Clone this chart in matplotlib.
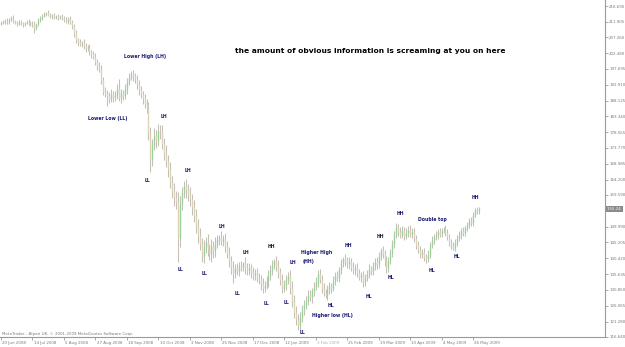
import matplotlib
matplotlib.use("Agg")
import matplotlib.pyplot as plt
import matplotlib.transforms as mtransforms

# ---------------- data (daily GBP/JPY-like candles) ----------------
first_open = 211.4
close = [
    211.6, 211.9, 212.3, 211.8, 212.6, 213.2,
    212.1, 211.7, 211.4, 211.9, 211.5, 211.2, 211.6, 211.9, 211.4, 211.7, 211.3,
    209.9,
    211.2, 212.4, 213.1, 213.8, 214.3, 214.6,
    214.1, 213.6, 213.9, 213.4, 213.7, 213.2, 213.5, 213.0,
    212.6, 212.1, 212.8, 211.9,
    210.6, 208.4, 206.3, 205.7,
    205.2, 205.6, 204.6,
    203.9, 204.2, 202.8, 202.1, 201.4,
    199.9, 198.6, 197.5,
    194.4, 190.8,
    190.2, 189.4, 188.6, 190.1, 189.1,
    189.8, 191.6, 188.9, 190.4, 189.6, 191.5,
    193.8, 195.2, 196.1, 195.4,
    194.5, 193.1, 191.2, 190.0, 188.8,
    187.2, 185.8,
    178.0, 170.5,
    174.8, 177.5, 176.2, 179.0, 178.6,
    175.1, 172.4, 169.8, 167.3,
    163.5, 160.8, 158.9, 157.4,
    146.5,
    156.8, 160.2, 162.4, 161.1, 159.6,
    158.3, 155.9, 153.2, 150.4, 147.1, 144.6, 141.2,
    143.8, 145.4, 143.1, 141.6, 144.2, 142.5,
    144.9, 146.3, 147.0, 145.8, 146.4, 144.1,
    141.9, 139.6, 137.8, 136.1,
    137.4, 136.6, 138.2, 137.9, 139.0, 137.5,
    136.8, 137.5, 136.2, 135.4, 135.9, 134.6, 134.1,
    132.8, 131.6, 132.2, 133.5,
    135.2, 136.9, 138.4, 139.5, 138.1, 136.2,
    134.0, 131.4, 132.5, 133.8,
    135.2,
    131.5, 127.6, 124.2, 122.1, 120.3, 122.6, 125.1,
    126.4, 127.9, 129.3, 128.6, 130.5, 131.9, 133.4, 135.6,
    134.2, 131.5, 130.0, 129.2, 130.8,
    132.1, 131.5, 133.6, 135.0, 134.6, 136.8, 138.9,
    140.2, 139.5, 138.6,
    139.4, 137.9, 136.8, 137.6, 135.9, 134.8, 135.3, 133.4, 134.6,
    135.8, 137.2, 136.5, 138.1, 139.3, 138.6,
    141.2, 142.8, 141.7,
    139.6, 137.4, 139.8, 141.9,
    144.6, 147.5, 149.8,
    148.4, 147.6, 148.9, 147.3, 148.2, 149.1, 147.8, 148.5, 146.6,
    144.4, 142.9, 141.6,
    142.4, 140.8, 140.2, 141.5, 144.3,
    145.9, 146.8, 147.5, 148.4, 147.9, 148.8, 149.4, 148.2,
    146.9, 145.1, 144.3, 143.6, 145.0,
    146.7, 147.5, 148.6, 148.1, 149.5, 150.4, 151.8, 151.2, 153.6,
    155.0, 154.6, 155.24,
]

upper_wick = [
    0.5, 0.6, 0.4, 0.7, 0.5, 0.6, 0.8, 0.4, 0.6, 0.5,
    0.7, 0.5, 0.4, 0.6, 0.8, 0.5, 0.6, 0.9, 0.5, 0.7,
    0.6, 0.5, 0.7, 0.4, 0.8, 0.6, 0.5, 0.7, 0.4, 0.6,
    0.5, 0.8, 0.6, 0.7, 0.5, 0.9, 0.6, 0.8, 1.0, 0.7,
    0.9, 0.6, 1.1, 0.8, 0.7, 1.0, 0.6, 0.9, 1.2, 0.8,
    1.1, 1.4, 0.9, 1.3, 1.0, 1.2, 1.6, 0.8, 1.1, 1.4,
    3.0, 1.2, 0.9, 1.5, 1.1, 1.3, 0.8, 1.2, 1.0, 1.4,
    1.1, 1.3, 0.9, 1.2, 1.5, 1.8, 2.0, 1.6, 2.2, 1.7,
    1.9, 1.6, 2.1, 1.8, 2.4, 1.9, 2.2, 1.7, 2.5, 2.0,
    3.2, 2.4, 1.8, 1.4, 2.1, 1.9, 2.3, 1.7, 2.0, 2.2,
    1.8, 2.4, 1.9, 2.1, 1.6, 2.3, 1.8, 2.0, 1.5, 1.9,
    1.3, 0.6, 1.7, 1.2, 1.8, 1.5, 2.0, 1.6, 1.9, 1.4,
    1.7, 1.2, 1.5, 0.3, 1.8, 1.4, 1.6, 1.2, 1.5, 1.3,
    1.7, 1.4, 1.2, 1.6, 1.3, 1.5, 1.8, 1.4, 1.6, 0.8,
    1.5, 1.9, 1.4, 1.7, 1.3, 1.6, 1.0, 1.8, 2.1, 1.6,
    1.9, 1.4, 1.7, 1.3, 1.5, 1.2, 1.6, 1.4, 1.1, 1.5,
    1.3, 1.3, 1.6, 1.2, 1.4, 1.1, 1.5, 1.3, 1.0, 1.4,
    1.2, 1.5, 1.1, 1.3, 0.6, 1.4, 1.2, 1.5, 1.1, 1.3,
    1.0, 1.4, 1.2, 0.9, 1.3, 1.1, 1.2, 1.4, 1.0, 1.3,
    1.1, 1.4, 1.2, 0.7, 1.3, 1.1, 1.4, 1.0, 1.2, 1.5,
    1.3, 1.3, 1.1, 1.4, 1.2, 1.0, 1.3, 1.1, 1.4, 1.0,
    1.2, 1.0, 1.3, 1.1, 0.9, 1.2, 1.0, 1.3, 1.1, 1.2,
    0.9, 1.1, 1.0, 1.2, 0.8, 0.5, 1.0, 1.2, 0.9, 1.1,
    1.0, 1.2, 0.9, 1.1, 1.0, 1.2, 0.8, 1.1, 0.9, 1.0,
    0.8, 0.7, 0.9, 0.6,
]

lower_wick = [
    0.5, 0.4, 0.6, 0.5, 0.7, 0.4, 0.6, 0.5, 0.7, 0.4,
    0.6, 0.8, 0.5, 0.4, 0.6, 0.7, 0.9, 1.5, 0.6, 0.5,
    0.4, 0.6, 0.5, 0.7, 0.4, 0.6, 0.8, 0.5, 0.6, 0.7,
    0.5, 0.6, 0.7, 0.5, 0.8, 0.6, 0.9, 1.1, 0.8, 1.0,
    0.7, 0.9, 0.8, 1.0, 0.7, 0.9, 1.1, 0.8, 1.0, 1.2,
    0.9, 1.3, 1.1, 1.0, 2.8, 1.2, 0.9, 1.4, 1.1, 1.3,
    1.0, 1.4, 1.2, 0.9, 1.3, 1.1, 1.0, 1.4, 1.2, 1.5,
    1.3, 1.1, 1.6, 1.2, 1.4, 1.8, 3.9, 2.1, 1.7, 2.3,
    1.8, 2.0, 1.6, 2.2, 1.9, 2.4, 1.8, 2.1, 2.6, 2.2,
    7.2, 2.6, 1.9, 1.6, 2.3, 1.8, 2.1, 2.5, 1.9, 2.2,
    2.0, 1.7, 1.9, 2.3, 1.8, 2.1, 1.6, 2.2, 1.9, 1.7,
    1.5, 1.8, 1.3, 1.6, 1.9, 1.4, 1.7, 2.0, 3.1, 1.5,
    1.3, 1.6, 1.2, 1.4, 1.7, 1.3, 1.5, 1.8, 1.4, 1.6,
    1.2, 1.5, 1.9, 1.7, 1.4, 1.2, 1.6, 1.3, 1.5, 1.1,
    1.4, 1.7, 1.5, 1.5, 1.3, 1.6, 1.2, 1.8, 2.0, 1.7,
    1.9, 1.6, 1.5, 1.4, 1.7, 1.3, 1.5, 1.2, 1.6, 1.4,
    1.2, 1.5, 1.3, 1.6, 1.1, 0.8, 1.4, 1.2, 1.5, 1.1,
    1.3, 1.0, 1.4, 1.2, 1.1, 1.3, 1.0, 1.4, 1.2, 1.1,
    1.3, 1.2, 1.0, 1.4, 1.6, 1.2, 1.1, 1.3, 1.0, 1.2,
    1.1, 1.3, 1.0, 1.2, 1.1, 1.4, 1.4, 1.1, 1.2, 1.0,
    1.2, 1.0, 1.3, 1.1, 1.0, 1.2, 1.1, 1.3, 1.0, 1.2,
    1.1, 1.3, 1.0, 1.2, 1.1, 1.3, 1.2, 1.0, 1.1, 0.9,
    1.0, 0.8, 1.1, 0.9, 1.0, 0.8, 1.1, 0.9, 1.0, 1.2,
    0.7, 1.0, 0.8, 0.9, 1.1, 0.8, 1.0, 0.9, 0.8, 1.0,
    0.9, 0.8, 0.7, 0.8,
]

date_labels = ["20 Jun 2008", "14 Jul 2008", "5 Aug 2008", "27 Aug 2008", "18 Sep 2008",
               "10 Oct 2008", "3 Nov 2008", "25 Nov 2008", "17 Dec 2008", "12 Jan 2009",
               "3 Feb 2009", "25 Feb 2009", "19 Mar 2009", "10 Apr 2009", "4 May 2009",
               "26 May 2009"]
date_label_bars = [0, 16, 32, 48, 64, 80, 96, 112, 128, 144, 160, 176, 192, 208, 224, 240]

price_labels = ["216.690", "211.905", "207.260", "202.480", "197.695", "192.910", "188.125",
                "183.340", "178.555", "173.770", "168.985", "164.200", "159.590", "149.990",
                "145.205", "140.420", "135.635", "130.850", "126.065", "121.280", "116.640"]
current_price = 155.24

# annotation texts: (text, bar position, price position, dark?)
notes = [
    ("Lower High (LH)", 73.2, 201.3, False),
    ("Lower Low (LL)", 54.4, 182.8, False),
    ("LH", 82.9, 183.4, False),
    ("LL", 74.7, 163.8, False),
    ("LH", 95.1, 167.1, False),
    ("LL", 91.5, 136.9, False),
    ("LL", 103.7, 135.7, False),
    ("LH", 112.4, 149.9, False),
    ("LH", 124.6, 142.3, True),
    ("HH", 137.3, 144.1, True),
    ("LL", 120.0, 129.9, False),
    ("LL", 135.2, 126.9, False),
    ("LH", 148.4, 139.3, False),
    ("LL", 145.4, 127.2, False),
    ("Higher High", 160.7, 142.3, False),
    ("(HH)", 156.6, 139.6, False),
    ("LL", 153.5, 117.9, False),
    ("HL", 167.8, 126.3, False),
    ("Higher low (HL)", 168.3, 123.0, False),
    ("HH", 176.4, 144.4, False),
    ("HL", 187.0, 129.0, False),
    ("HH", 192.7, 146.9, True),
    ("HL", 198.3, 134.5, False),
    ("HH", 202.9, 154.1, False),
    ("Double top", 219.1, 152.3, False),
    ("HL", 219.1, 136.6, False),
    ("HL", 231.8, 141.1, False),
    ("HH", 241.0, 158.7, False),
]
headline = "the amount of obvious information is screaming at you on here"
copyright_text = "MetaTrader - Alpari UK, \u00a9 2001-2009 MetaQuotes Software Corp."

# ---------------- drawing ----------------
W, H = 625, 347
fig = plt.figure(figsize=(W / 100, H / 100), dpi=100)
fig.patch.set_facecolor("white")
ax = fig.add_axes([0, 10 / H, 605 / W, 337 / H])
ax.set_facecolor("white")

n = len(close)
opens = [first_open] + close[:-1]
xs = list(range(n))
highs = [max(o, c) + u for o, c, u in zip(opens, close, upper_wick)]
lows = [min(o, c) - l for o, c, l in zip(opens, close, lower_wick)]

ax.vlines(xs, lows, highs, color="#c4c0b8", lw=0.75, zorder=2)
bull_x = [i for i in xs if close[i] >= opens[i]]
bear_x = [i for i in xs if close[i] < opens[i]]
ax.vlines(bull_x, [opens[i] for i in bull_x], [close[i] for i in bull_x],
          color="#94d494", lw=0.95, zorder=3)
ax.vlines(bear_x, [opens[i] for i in bear_x], [close[i] for i in bear_x],
          color="#dcd2b8", lw=0.95, zorder=3)

ax.set_xlim(-0.5, 307.1)
ax.set_ylim(116.64, 116.64 + 337 * 0.30227)

for s in ("left", "top"):
    ax.spines[s].set_visible(False)
for s in ("right", "bottom"):
    ax.spines[s].set_color("#9a9a9a")
    ax.spines[s].set_linewidth(0.8)

ax.yaxis.tick_right()
ax.set_yticks([float(v) for v in price_labels], price_labels)
ax.tick_params(axis="y", length=2, width=0.6, color="#9a9a9a", pad=1,
               labelsize=2.9, labelcolor="#7a7a7a")

ax.set_xticks(date_label_bars, date_labels)
ax.tick_params(axis="x", length=2, width=0.6, color="#9a9a9a", pad=0.6,
               labelsize=2.9, labelcolor="#7a7a7a")
for lab in ax.get_xticklabels():
    lab.set_ha("left")
    if lab.get_text() == "3 Feb 2009":
        lab.set_color("#b0b0b0")
offset = mtransforms.ScaledTranslation(1.2 / 100, 0, fig.dpi_scale_trans)
for lab in ax.get_xticklabels():
    lab.set_transform(lab.get_transform() + offset)

blend = mtransforms.blended_transform_factory(ax.transAxes, ax.transData)
ax.text(1.004, current_price, f"{current_price:.2f} ", transform=blend, ha="left",
        va="center", fontsize=2.9, color="white", zorder=5,
        bbox=dict(boxstyle="square,pad=0.25", fc="#8a8a8a", ec="none"), clip_on=False)

for txt, bx, py, dark in notes:
    ax.text(bx, py, txt, ha="center", va="center", fontsize=3.3, fontweight="bold",
            color="#222233" if dark else "#1b1b72", zorder=6)

ax.text(187.6, 203.1, headline, ha="center", va="center", fontsize=5.4,
        fontweight="bold", color="black", zorder=6)

fig.text(2 / W, 1 - 334 / H, copyright_text, ha="left", va="center", fontsize=2.9,
         color="#7a7a7a")

fig.savefig("out.png", dpi=100, facecolor="white")
